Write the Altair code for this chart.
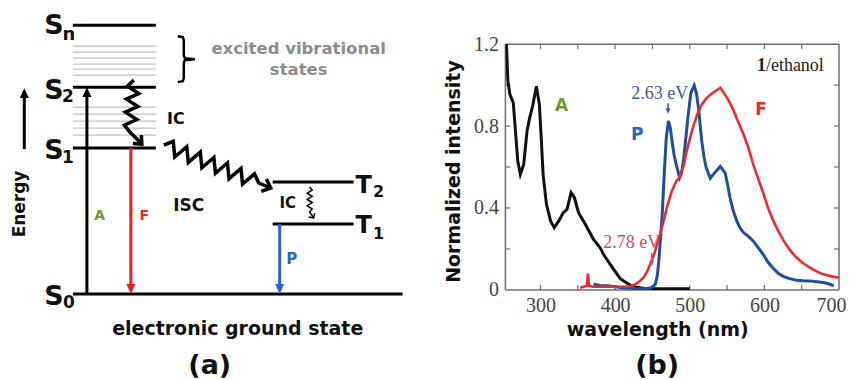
import math
import altair as alt
import pandas as pd

# ---------------- panel (b): spectra ----------------
abs_wl = [253, 254.5, 256.3, 259, 263.5, 266.5, 269.5, 273, 277.5, 282, 285.5, 289.5, 294.5,
          298.5, 301, 303.5, 308, 313.5, 318.5, 324.5, 330.5, 335.5, 341, 345.5,
          351, 360, 371, 380, 385, 398, 407, 416, 425, 440, 460, 480, 500]
abs_int = [1.3, 1.19, 1.02, 0.955, 0.914, 0.776, 0.63, 0.564, 0.613, 0.776, 0.84, 0.898, 0.995,
           0.906, 0.743, 0.564, 0.418, 0.337, 0.304, 0.337, 0.377, 0.393, 0.475, 0.45,
           0.377, 0.32, 0.247, 0.205, 0.17, 0.10, 0.055, 0.032, 0.015, 0.007, 0.006, 0.006, 0.006]

fluo_wl = [353, 358, 362, 363.5, 365, 370, 380, 390, 400, 410,
           420, 425, 432, 438, 443, 447, 452, 456, 460, 465,
           470, 476, 482, 487, 492, 496, 504, 510, 516, 523,
           530, 536, 541, 546, 550, 555, 559, 565, 572, 579,
           585, 592, 599, 605, 612, 619, 626, 634, 643, 652,
           661, 670, 679, 690, 699]
fluo_int = [0.01, 0.015, 0.02, 0.08, 0.02, 0.015, 0.015, 0.015, 0.015, 0.015,
            0.018, 0.022, 0.04, 0.06, 0.09, 0.125, 0.17, 0.22, 0.27, 0.337,
            0.41, 0.483, 0.53, 0.555, 0.61, 0.68, 0.79, 0.857, 0.905, 0.938,
            0.96, 0.975, 0.987, 0.96, 0.938, 0.905, 0.873, 0.82, 0.76, 0.69,
            0.613, 0.54, 0.467, 0.40, 0.337, 0.285, 0.239, 0.195, 0.158, 0.13,
            0.109, 0.09, 0.076, 0.066, 0.06]

phos_wl = [371, 375, 380, 390, 400, 410, 420, 430, 440, 448,
           452, 454, 456.5, 458.5, 461, 463, 466, 468.5, 471.5, 474,
           476.5, 479, 482, 486.5, 489, 492, 495, 497.5, 501.5, 506,
           509, 512, 516, 519, 522, 527.5, 534, 541, 547.5, 551,
           554, 558, 563, 567, 572, 579, 585, 592, 599, 605,
           612, 619, 626, 634, 643, 652, 661, 670, 679, 686, 693]
phos_int = [0.028, 0.025, 0.022, 0.02, 0.015, 0.01, 0.008, 0.006, 0.006, 0.01,
            0.02, 0.03, 0.07, 0.14, 0.26, 0.36, 0.58, 0.74, 0.825, 0.79,
            0.72, 0.66, 0.61, 0.548, 0.57, 0.645, 0.75, 0.84, 0.962, 0.998,
            0.96, 0.88, 0.73, 0.65, 0.597, 0.545, 0.575, 0.603, 0.57, 0.51,
            0.45, 0.39, 0.337, 0.305, 0.28, 0.26, 0.239, 0.205, 0.17, 0.135,
            0.105, 0.08, 0.065, 0.055, 0.047, 0.045, 0.044, 0.04, 0.036, 0.03, 0.02]

x_label_values = [300, 400, 500, 600, 700]
y_label_values = [0, 0.4, 0.8, 1.2]
x_minor = [300, 350, 400, 450, 500, 550, 600, 650]
y_minor = [0.2, 0.4, 0.6, 0.8, 1.0]

# ---------------- panel (a): Jablonski diagram ----------------
level_energy = [26.9, 20.7, 14.6, 0.0, 11.2, 7.0]          # Sn, S2, S1, S0, T2, T1
level_start = [64, 64, 64, 64, 264, 264]
level_end = [147, 147, 147, 394, 345, 345]
vib_energy = [24.8, 24.2, 23.6, 23.0, 22.5, 21.9, 18.7, 18.0, 17.3, 16.6, 15.9]

# =====================================================
XA = alt.Scale(domain=[0, 497], nice=False, zero=False)
YA = alt.Scale(domain=[-8.7, 28.5], nice=False, zero=False)


def ax(f):
    return alt.X(f, type="quantitative", scale=XA, axis=None)


def ay(f):
    return alt.Y(f, type="quantitative", scale=YA, axis=None)


def zigzag(u0, e0, u1, e1, n, amp):
    dx, dy = u1 - u0, (e1 - e0) * 10.0
    L = math.hypot(dx, dy)
    px, py = -dy / L, dx / L
    pts = []
    for k in range(n + 1):
        t = k / n
        s = 0 if k in (0, n) else (amp if k % 2 else -amp)
        pts.append((u0 + dx * t + px * s, e0 + (dy * t + py * s) / 10.0))
    return pts


def chevron(tu, te, fu, fe, length, ang):
    du, de = tu - fu, (te - fe) * 10.0
    L = math.hypot(du, de)
    bx_, by_ = -du / L, -de / L
    out = []
    for sg in (1, -1):
        a = math.radians(ang * sg)
        rx = bx_ * math.cos(a) - by_ * math.sin(a)
        ry = bx_ * math.sin(a) + by_ * math.cos(a)
        out.append((tu + rx * length, te + ry * length / 10.0))
    return [out[0], (tu, te), out[1]]


def rows(name, pts):
    return [{"g": name, "i": i, "x": p[0], "e": p[1]} for i, p in enumerate(pts)]


ic_pts = zigzag(125, 21.4, 121, 16.2, 8, -6) + [(133, 15.0)]
isc_pts = zigzag(155, 14.9, 250, 11.1, 14, 7) + [(262, 10.6)]
ic2_pts = zigzag(301, 10.7, 301, 8.2, 8, 2.5) + [(305, 7.6)]
brace_pts = [(169, 25.8), (174, 25.7), (175, 25.4), (175, 23.9), (176, 23.6), (186, 23.5),
             (176, 23.4), (175, 23.1), (175, 21.6), (174, 21.3), (169, 21.2)]

thick = pd.DataFrame(rows("ic", ic_pts) + rows("ich", chevron(133, 15.0, 121, 16.2, 9, 42))
                     + rows("isc", isc_pts) + rows("isch", chevron(262, 10.6, 250, 11.1, 10, 42)))
thin = pd.DataFrame(rows("ic2", ic2_pts) + rows("ic2h", chevron(305, 7.6, 301, 8.2, 5, 45)))
brace = pd.DataFrame(rows("brace", brace_pts))

levels_df = pd.DataFrame({"x0": level_start, "x1": level_end, "e": level_energy})
vib_df = pd.DataFrame({"x0": 64, "x1": 147, "e": vib_energy})

arrow_df = pd.DataFrame({"x": [15.3, 78, 122, 271], "e0": [14.5, 0, 14.6, 7.0],
                         "e1": [20.2, 20.2, 0.4, 0.4],
                         "c": ["#000000", "#000000", "#f01e1e", "#2a62d0"]})
head_up = pd.DataFrame({"x": [15.3, 78], "e": [20.1, 20.2], "c": ["#000000", "#000000"]})
head_dn = pd.DataFrame({"x": [122, 271], "e": [0.5, 0.5], "c": ["#f01e1e", "#2a62d0"]})

texts_a = pd.DataFrame([
    {"t": "S", "x": 45, "e": 26.8, "c": "#111111", "s": 27, "a": 0},
    {"t": "n", "x": 60, "e": 25.9, "c": "#111111", "s": 18, "a": 0},
    {"t": "S", "x": 45, "e": 20.3, "c": "#111111", "s": 27, "a": 0},
    {"t": "2", "x": 59, "e": 19.7, "c": "#111111", "s": 17, "a": 0},
    {"t": "S", "x": 45, "e": 14.3, "c": "#111111", "s": 27, "a": 0},
    {"t": "1", "x": 59, "e": 13.6, "c": "#111111", "s": 17, "a": 0},
    {"t": "S", "x": 45, "e": -0.3, "c": "#111111", "s": 27, "a": 0},
    {"t": "0", "x": 60, "e": -0.9, "c": "#111111", "s": 17, "a": 0},
    {"t": "T", "x": 355, "e": 10.8, "c": "#111111", "s": 24, "a": 0},
    {"t": "2", "x": 370, "e": 10.2, "c": "#111111", "s": 16, "a": 0},
    {"t": "T", "x": 355, "e": 6.8, "c": "#111111", "s": 24, "a": 0},
    {"t": "1", "x": 370, "e": 6.0, "c": "#111111", "s": 16, "a": 0},
    {"t": "Energy", "x": 11, "e": 9.0, "c": "#111111", "s": 17, "a": 270},
    {"t": "A", "x": 90.7, "e": 7.8, "c": "#6c9a2c", "s": 14, "a": 0},
    {"t": "F", "x": 135.5, "e": 7.8, "c": "#f02828", "s": 14, "a": 0},
    {"t": "P", "x": 283, "e": 3.5, "c": "#2a62d0", "s": 15, "a": 0},
    {"t": "IC", "x": 167, "e": 17.5, "c": "#111111", "s": 16, "a": 0},
    {"t": "ISC", "x": 180, "e": 8.8, "c": "#111111", "s": 17, "a": 0},
    {"t": "IC", "x": 279, "e": 9.1, "c": "#111111", "s": 15, "a": 0},
    {"t": "excited vibrational", "x": 290, "e": 24.5, "c": "#8c8c8c", "s": 16.5, "a": 0},
    {"t": "states", "x": 290, "e": 22.4, "c": "#8c8c8c", "s": 16.5, "a": 0},
    {"t": "electronic ground state", "x": 229, "e": -3.5, "c": "#111111", "s": 19, "a": 0},
    {"t": "(a)", "x": 201, "e": -7.2, "c": "#111111", "s": 27, "a": 0},
])

UP = "M0,-1L-0.9,1L0.9,1Z"
DN = "M0,1L-0.9,-1L0.9,-1Z"

left = alt.layer(
    alt.Chart(vib_df).mark_rule(color="#c2c2c2", strokeWidth=1.3).encode(x=ax("x0"), x2="x1", y=ay("e")),
    alt.Chart(levels_df).mark_rule(color="#000000", strokeWidth=3).encode(x=ax("x0"), x2="x1", y=ay("e")),
    alt.Chart(arrow_df).mark_rule(strokeWidth=3).encode(
        x=ax("x"), y=ay("e0"), y2="e1", color=alt.Color("c:N", scale=None)),
    alt.Chart(head_up).mark_point(shape=UP, filled=True, size=100, opacity=1).encode(
        x=ax("x"), y=ay("e"), color=alt.Color("c:N", scale=None)),
    alt.Chart(head_dn).mark_point(shape=DN, filled=True, size=100, opacity=1).encode(
        x=ax("x"), y=ay("e"), color=alt.Color("c:N", scale=None)),
    alt.Chart(thick).mark_line(color="#000000", strokeWidth=3.5).encode(
        x=ax("x"), y=ay("e"), detail="g:N", order="i:Q"),
    alt.Chart(thin).mark_line(color="#000000", strokeWidth=1.5).encode(
        x=ax("x"), y=ay("e"), detail="g:N", order="i:Q"),
    alt.Chart(brace).mark_line(color="#000000", strokeWidth=2.5).encode(
        x=ax("x"), y=ay("e"), detail="g:N", order="i:Q"),
    alt.Chart(texts_a).mark_text(font="DejaVu Sans", fontWeight="bold", align="center", baseline="middle").encode(
        x=ax("x"), y=ay("e"), text="t:N", color=alt.Color("c:N", scale=None),
        size=alt.Size("s:Q", scale=None), angle=alt.Angle("a:Q", scale=None)),
).properties(width=497, height=372)

# =====================================================
XB = alt.Scale(domain=[253, 700], nice=False, zero=False)
YB = alt.Scale(domain=[0, 1.2], nice=False, zero=False)

AXB = alt.Axis(values=x_label_values, title="wavelength (nm)", grid=False, domain=False, ticks=False,
               tickSize=0, labelFont="Liberation Serif", labelFontSize=20, labelColor="#444444",
               labelPadding=6, labelFlush=1, labelFlushOffset=7, titleFont="DejaVu Sans", titleFontSize=19,
               titleFontWeight="bold", titleColor="#111111", titleX=152, titleY=40,
               titleBaseline="middle", titleAlign="center")
AYB = alt.Axis(values=y_label_values, title="Normalized intensity", grid=False, domain=False, ticks=False,
               tickSize=0, labelFont="Liberation Serif", labelFontSize=20, labelColor="#444444",
               labelPadding=7, labelFlush=False, labelOverlap=False,
               labelExpr="datum.value == 0 ? '0' : format(datum.value, '.1f')",
               titleFont="DejaVu Sans",
               titleFontSize=19, titleFontWeight="bold", titleColor="#111111", titleX=-52, titleY=127,
               titleBaseline="middle", titleAlign="center", titleAngle=270)


def bx(f):
    return alt.X(f, type="quantitative", scale=XB, axis=AXB)


def by(f):
    return alt.Y(f, type="quantitative", scale=YB, axis=AYB)


abs_df = pd.DataFrame({"wl": abs_wl, "v": abs_int})
fluo_df = pd.DataFrame({"wl": fluo_wl, "v": fluo_int})
phos_df = pd.DataFrame({"wl": phos_wl, "v": phos_int})

tick_rows = []
for xv in x_minor:
    tick_rows.append({"x0": xv, "x1": xv, "y0": 1.2, "y1": 1.176})
    tick_rows.append({"x0": xv, "x1": xv, "y0": 0.0, "y1": 0.024})
for yv in y_minor:
    tick_rows.append({"x0": 253, "x1": 259.7, "y0": yv, "y1": yv})
    tick_rows.append({"x0": 700, "x1": 693.3, "y0": yv, "y1": yv})
frame_rows = [{"x0": 253, "x1": 700, "y0": 0, "y1": 0}, {"x0": 253, "x1": 700, "y0": 1.2, "y1": 1.2},
              {"x0": 253, "x1": 253, "y0": 0, "y1": 1.2}, {"x0": 700, "x1": 700, "y0": 0, "y1": 1.2}]
ticks_df = pd.DataFrame(tick_rows)
frame_df = pd.DataFrame(frame_rows)

sans_b = pd.DataFrame([
    {"t": "A", "wl": 328.1, "v": 0.898, "c": "#6c9a2c", "s": 17},
    {"t": "P", "wl": 429.7, "v": 0.756, "c": "#2a62d0", "s": 17},
    {"t": "F", "wl": 595.5, "v": 0.878, "c": "#f02828", "s": 17},
    {"t": "(b)", "wl": 456.4, "v": -0.37, "c": "#111111", "s": 27},
])
serif_t = pd.DataFrame([
    {"t": "2.63 eV", "wl": 459.8, "v": 0.956, "c": "#3b5c9c"},
    {"t": "2.78 eV", "wl": 422.3, "v": 0.229, "c": "#d9485a"},
])
eth_bold = pd.DataFrame([{"t": "1", "wl": 590.1, "v": 1.093}])
eth_rest = pd.DataFrame([{"t": "/ethanol", "wl": 602.1, "v": 1.093}])

small_arrows = pd.DataFrame({"wl": [471, 449], "v0": [0.912, 0.18], "v1": [0.875, 0.13],
                             "c": ["#3b5c9c", "#d9485a"]})
small_heads = pd.DataFrame({"wl": [471, 449], "v": [0.874, 0.129], "c": ["#3b5c9c", "#d9485a"]})

right = alt.layer(
    alt.Chart(frame_df).mark_rule(color="#6e6e6e", strokeWidth=1.5).encode(
        x=bx("x0"), x2="x1", y=by("y0"), y2="y1"),
    alt.Chart(ticks_df).mark_rule(color="#6e6e6e", strokeWidth=1.2).encode(
        x=bx("x0"), x2="x1", y=by("y0"), y2="y1"),
    alt.Chart(abs_df).mark_line(color="#111111", strokeWidth=3, clip=True).encode(x=bx("wl"), y=by("v")),
    alt.Chart(phos_df).mark_line(color="#1f4e9e", strokeWidth=3, clip=True).encode(x=bx("wl"), y=by("v")),
    alt.Chart(fluo_df).mark_line(color="#ee2a2a", strokeWidth=2.6, clip=True).encode(x=bx("wl"), y=by("v")),
    alt.Chart(small_arrows).mark_rule(strokeWidth=1.5).encode(
        x=bx("wl"), y=by("v0"), y2="v1", color=alt.Color("c:N", scale=None)),
    alt.Chart(small_heads).mark_point(shape=DN, filled=True, size=30, opacity=1).encode(
        x=bx("wl"), y=by("v"), color=alt.Color("c:N", scale=None)),
    alt.Chart(sans_b).mark_text(font="DejaVu Sans", fontWeight="bold", align="center", baseline="middle").encode(
        x=bx("wl"), y=by("v"), text="t:N", color=alt.Color("c:N", scale=None), size=alt.Size("s:Q", scale=None)),
    alt.Chart(serif_t).mark_text(font="Liberation Serif", fontSize=18, align="center", baseline="middle").encode(
        x=bx("wl"), y=by("v"), text="t:N", color=alt.Color("c:N", scale=None)),
    alt.Chart(eth_bold).mark_text(font="Liberation Serif", fontWeight="bold", fontSize=18, align="left",
                                  baseline="middle", color="#222222").encode(x=bx("wl"), y=by("v"), text="t:N"),
    alt.Chart(eth_rest).mark_text(font="Liberation Serif", fontSize=18, align="left",
                                  baseline="middle", color="#222222").encode(x=bx("wl"), y=by("v"), text="t:N"),
).properties(width=334, height=246)

spacer = alt.Chart(pd.DataFrame({"s": [0]})).mark_point(size=1, opacity=0, strokeWidth=0).encode(
    x=alt.value(20), y=alt.value(20)).properties(width=334, height=35)

chart = alt.hconcat(
    left,
    alt.vconcat(spacer, right, spacing=0, bounds="flush"),
    spacing=0, bounds="flush",
).properties(padding=0, background="white").configure_view(stroke="transparent")

chart.save("out.html", embed_options={"renderer": "svg", "actions": False})
